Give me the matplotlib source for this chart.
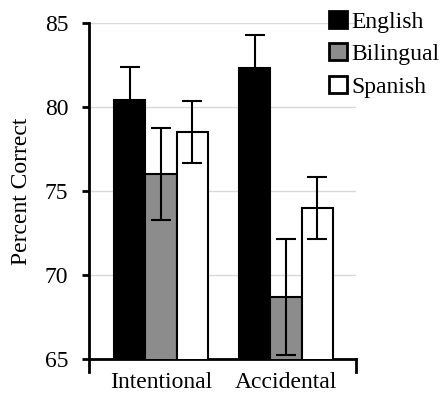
import numpy as np
import matplotlib.pyplot as plt
from matplotlib.patches import Patch

plt.rcParams['font.family'] = ['Liberation Serif', 'DejaVu Serif']

# Percent correct by condition and language group
conditions = ['Intentional', 'Accidental']
groups = ['English', 'Bilingual', 'Spanish']
means = {
    'English': [80.4, 82.3],
    'Bilingual': [76.0, 68.7],
    'Spanish': [78.5, 74.0],
}
errors = {
    'English': [2.0, 2.0],
    'Bilingual': [2.75, 3.45],
    'Spanish': [1.85, 1.85],
}
colors = {'English': '#000000', 'Bilingual': '#8c8c8c', 'Spanish': '#ffffff'}

fig = plt.figure(figsize=(4.41, 3.96), dpi=100)
ax = fig.add_axes([0.2018, 0.0934, 0.6055, 0.8485])

x = np.arange(len(conditions))
w = 0.25
for i, g in enumerate(groups):
    ax.bar(x + (i - 1) * w, means[g], w, bottom=0, color=colors[g],
           edgecolor='black', linewidth=1.5, zorder=3,
           yerr=errors[g], capsize=7,
           error_kw=dict(elinewidth=1.5, capthick=1.5, ecolor='black', zorder=4))

ax.set_ylim(65, 85)
ax.set_yticks([65, 70, 75, 80, 85])
ax.set_xlim(-0.576, 1.56)
ax.set_xticks(x)
ax.set_xticklabels(conditions, fontsize=17)
ax.tick_params(axis='x', length=0, pad=9)
ax.tick_params(axis='y', labelsize=17, width=2, length=5, direction='out', pad=10)
ax.set_ylabel('Percent Correct', fontsize=17, labelpad=9)

ax.yaxis.grid(True, color='#d9d9d9', linewidth=1, zorder=0)
ax.set_axisbelow(True)
for s in ['top', 'right']:
    ax.spines[s].set_visible(False)
ax.spines['left'].set_linewidth(2)
ax.spines['bottom'].set_linewidth(2)

# end ticks on the category axis
ax.plot([1.56, 1.56], [65, 64.25], color='black', lw=2, clip_on=False)
ax.plot([-0.576, -0.576], [65, 64.25], color='black', lw=2, clip_on=False)

handles = [Patch(facecolor=colors[g], edgecolor='black', linewidth=2) for g in groups]
fig.legend(handles, groups, loc='upper left', bbox_to_anchor=(0.736, 0.985),
           frameon=False, fontsize=17, handlelength=0.75, handleheight=0.75,
           handletextpad=0.2, labelspacing=0.45, borderpad=0.2, borderaxespad=0)

fig.savefig('out.png', dpi=100)
